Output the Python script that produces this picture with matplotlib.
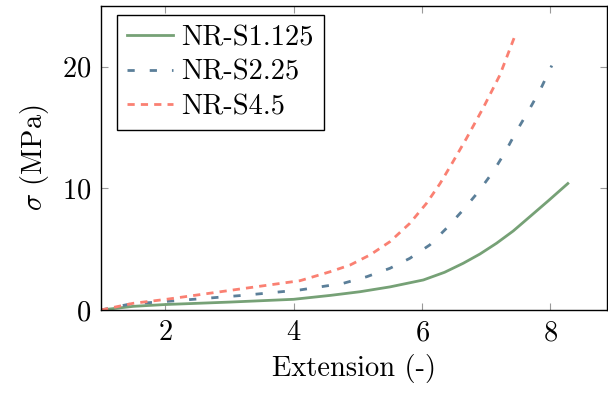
import matplotlib.pyplot as plt
import numpy as np

plt.rcParams['font.family'] = 'cmr10'
plt.rcParams['mathtext.fontset'] = 'cm'
plt.rcParams['axes.formatter.use_mathtext'] = True
plt.rcParams['font.size'] = 20.5

# Data (extension, stress in MPa)
ext_s1 = [1.0, 1.5, 2.0, 3.0, 4.0, 4.57, 5.03, 5.5, 6.02, 6.35, 6.64, 6.9, 7.16,
          7.42, 7.68, 7.97, 8.27]
sig_s1 = [0.0, 0.3, 0.45, 0.65, 0.88, 1.2, 1.5, 1.9, 2.47, 3.1, 3.84, 4.6, 5.49,
          6.5, 7.68, 9.0, 10.4]

ext_s2 = [1.0, 1.45, 2.18, 3.27, 4.1, 4.77, 5.14, 5.5, 5.81, 6.12, 6.38, 6.64,
          6.88, 7.11, 7.29, 7.47, 7.65, 7.84, 8.02]
sig_s2 = [0.0, 0.49, 0.77, 1.23, 1.65, 2.19, 2.74, 3.43, 4.25, 5.35, 6.72, 8.23,
          9.74, 11.4, 12.95, 14.7, 16.3, 18.1, 20.1]

ext_s4 = [1.0, 1.5, 2.02, 3.06, 4.1, 4.57, 4.88, 5.19, 5.5, 5.81, 6.07, 6.28,
          6.46, 6.69, 6.95, 7.21, 7.45]
sig_s4 = [0.0, 0.55, 0.88, 1.65, 2.41, 3.15, 3.7, 4.53, 5.62, 7.13, 8.78, 10.4,
          12.0, 14.1, 16.6, 19.3, 22.6]

labels = ['NR-S1.125', 'NR-S2.25', 'NR-S4.5']
colors = ['#76a176', '#5b7f99', '#fa8072']

fig = plt.figure(figsize=(6.08, 3.94), dpi=100)
ax = fig.add_axes([101 / 608, 84 / 394, 506 / 608, 304 / 394])

ax.plot(ext_s1, sig_s1, color=colors[0], lw=2.0, label=labels[0])
ax.plot(ext_s2, sig_s2, color=colors[1], lw=2.0, dashes=(2.6, 5.4), label=labels[1])
ax.plot(ext_s4, sig_s4, color=colors[2], lw=2.0, dashes=(2.6, 2.2), label=labels[2])

ax.set_xlim(1, 8.88)
ax.set_ylim(0, 25)
ax.set_xticks([2, 4, 6, 8])
ax.set_yticks([0, 10, 20])
ax.tick_params(direction='in', length=5, color='#999999', top=True, right=True, pad=7)
for s in ax.spines.values():
    s.set_linewidth(1.0)

ax.set_xlabel('Extension (-)', labelpad=6)
ax.set_ylabel(r'$\sigma$ (MPa)', labelpad=8)

leg = ax.legend(loc='upper left', fancybox=False, edgecolor='black', framealpha=1,
                handlelength=1.6, borderpad=0.35, labelspacing=0.28, handletextpad=0.3,
                borderaxespad=0, bbox_to_anchor=(0.032, 0.97))
leg.get_frame().set_linewidth(1.0)

plt.savefig('out.png', dpi=100)
